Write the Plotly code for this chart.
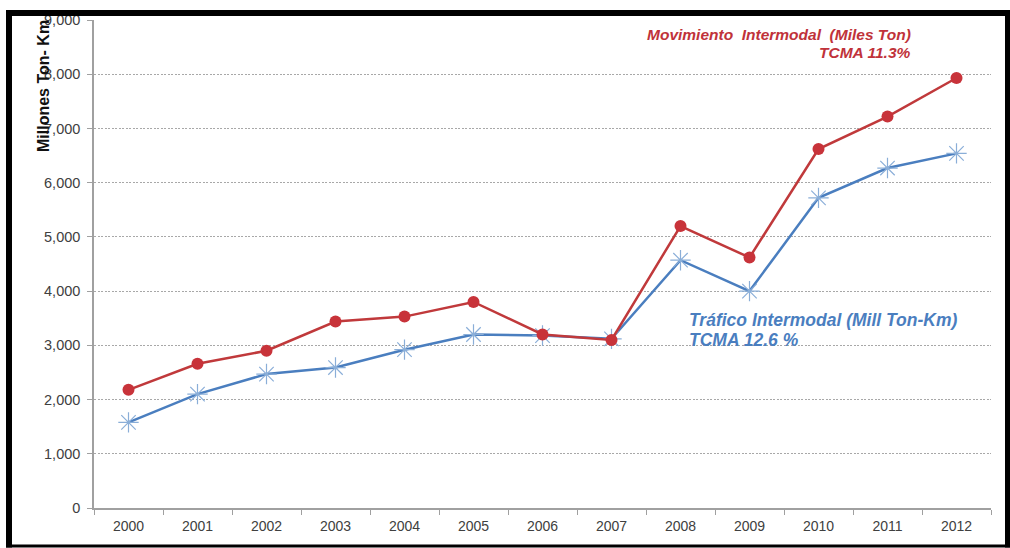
import plotly.graph_objects as go

years = ["2000", "2001", "2002", "2003", "2004", "2005", "2006",
         "2007", "2008", "2009", "2010", "2011", "2012"]
movimiento = [2180, 2660, 2900, 3440, 3530, 3800, 3200, 3100, 5200, 4620, 6620, 7220, 7930]
trafico = [1580, 2100, 2470, 2590, 2920, 3200, 3180, 3120, 4570, 4000, 5720, 6270, 6540]
y_ticks = [0, 1000, 2000, 3000, 4000, 5000, 6000, 7000, 8000, 9000]

W, H = 1010, 548
ML, MR, MT, MB = 94, 19, 15, 40
PW, PH = W - ML - MR, H - MT - MB


def px(x):
    return (x - ML) / PW


def py(y):
    return (H - MB - y) / PH


fig = go.Figure()
fig.add_trace(go.Scatter(
    x=years, y=trafico, mode="lines+markers", name="Tráfico",
    line=dict(color="#4a7ebf", width=2.5),
    marker=dict(symbol="asterisk-open", size=17,
                line=dict(color="#8aaed8", width=1.2), color="#8aaed8"),
))
fig.add_trace(go.Scatter(
    x=years, y=movimiento, mode="lines+markers", name="Movimiento",
    line=dict(color="#c0393b", width=2.5),
    marker=dict(symbol="circle", size=12, color="#c8333a"),
))

fam = "Liberation Sans, Arial, sans-serif"

fig.add_annotation(xref="paper", yref="paper", x=px(913), y=py(30),
                   xanchor="right", yanchor="middle", showarrow=False, align="right",
                   text="<b><i>Movimiento  Intermodal  (Miles Ton)</i></b>",
                   font=dict(color="#c0323a", family=fam, size=15.5))
fig.add_annotation(xref="paper", yref="paper", x=px(913), y=py(48),
                   xanchor="right", yanchor="middle", showarrow=False,
                   text="<b><i>TCMA 11.3%</i></b>",
                   font=dict(color="#c0323a", family=fam, size=15.5))
fig.add_annotation(xref="paper", yref="paper", x=px(687), y=py(318),
                   xanchor="left", yanchor="middle", showarrow=False,
                   text="<b><i>Tráfico Intermodal (Mill Ton-Km)</i></b>",
                   font=dict(color="#4a7ebf", family=fam, size=17.5))
fig.add_annotation(xref="paper", yref="paper", x=px(687), y=py(338),
                   xanchor="left", yanchor="middle", showarrow=False,
                   text="<b><i>TCMA 12.6 %</i></b>",
                   font=dict(color="#4a7ebf", family=fam, size=17.5))
fig.add_annotation(xref="paper", yref="paper", x=px(43), y=py(13),
                   xanchor="center", yanchor="top", showarrow=False, textangle=-90,
                   text="<b>Millones Ton- Km</b>",
                   font=dict(family=fam, size=16, color="#111111"))

# black frame around the picture
frame = [
    (6, 5, W, 11),
    (6, 5, 12, H),
    (1005, 5, W, H),
    (6, 545, W, H),
]
for x0, y0, x1, y1 in frame:
    fig.add_shape(type="rect", xref="paper", yref="paper",
                  x0=px(x0), x1=px(x1), y0=py(y0), y1=py(y1),
                  fillcolor="black", line=dict(width=0), layer="above")

fig.update_layout(
    width=W, height=H,
    margin=dict(l=ML, r=MR, t=MT, b=MB),
    paper_bgcolor="white", plot_bgcolor="white",
    showlegend=False,
    font=dict(family=fam, size=14, color="#404040"),
    xaxis=dict(
        type="category", range=[-0.5, 12.5], tickson="boundaries",
        ticks="outside", ticklen=5, ticklabelstandoff=4,
        tickcolor="#a0a0a0", showline=True, linecolor="#a0a0a0", linewidth=1.5,
        showgrid=False, tickfont=dict(size=14, color="#404040"),
    ),
    yaxis=dict(
        range=[0, 9000], tickvals=y_ticks, tickformat=",d",
        ticks="outside", ticklen=5, tickcolor="#a0a0a0", ticklabelstandoff=4,
        showline=True, linecolor="#a0a0a0", linewidth=1.5,
        showgrid=True, gridcolor="#a8a8a8", griddash="2px,1.5px", gridwidth=1,
        zeroline=False, tickfont=dict(size=14.5, color="#404040"),
    ),
)

fig.write_html("out.html")
